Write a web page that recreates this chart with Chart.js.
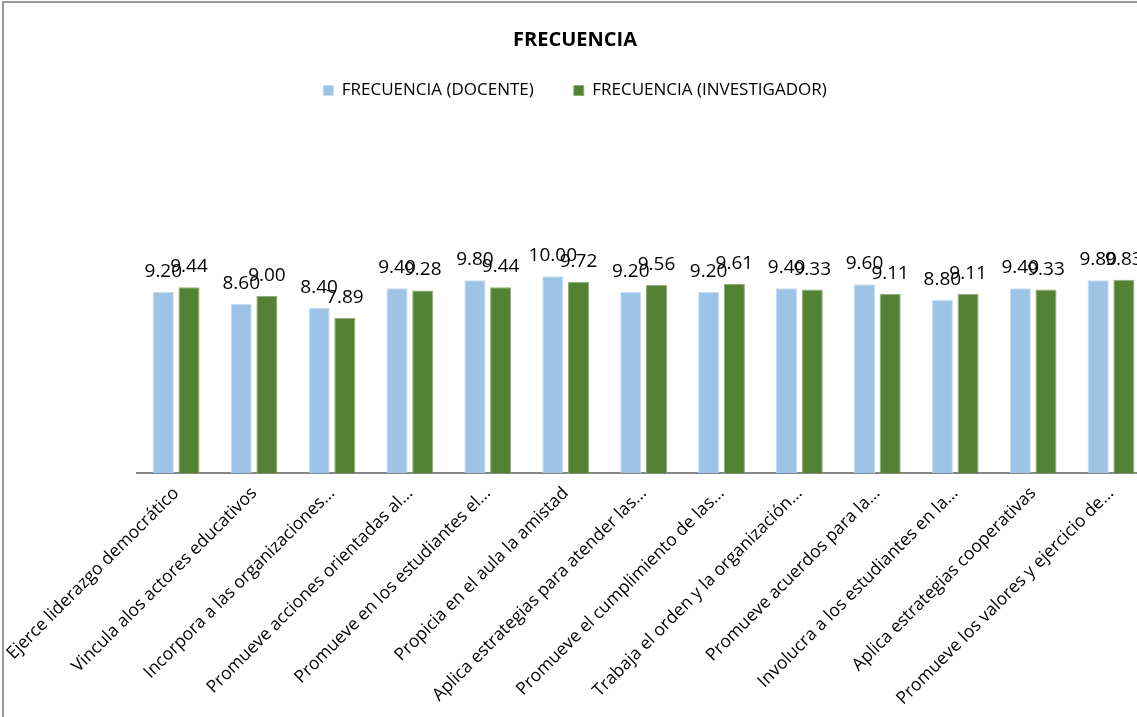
<!DOCTYPE html>
<html>
<head>
<meta charset="utf-8">
<script src="https://cdn.jsdelivr.net/npm/chart.js@4/dist/chart.umd.min.js"></script>
<style>
  html, body { margin: 0; padding: 0; background: #fff; overflow: hidden; }
  #wrap { position: relative; width: 1150px; height: 717px; }
  #frame { position: absolute; left: 2px; top: 1px; right: 0; bottom: 0;
           border-top: 2px solid #9a9a9a; border-left: 2px solid #9a9a9a; pointer-events: none; }
</style>
</head>
<body>
<div id="wrap">
  <canvas id="chart" width="1150" height="717"></canvas>
  <div id="frame"></div>
</div>
<script>
var categorias = [
  'Ejerce liderazgo democrático',
  'Vincula alos actores educativos',
  'Incorpora a las organizaciones...',
  'Promueve acciones orientadas al...',
  'Promueve en los estudiantes el...',
  'Propicia en el aula la amistad',
  'Aplica estrategias para atender las...',
  'Promueve el cumplimiento de las...',
  'Trabaja el orden y la organización...',
  'Promueve acuerdos para la...',
  'Involucra a los estudiantes en la...',
  'Aplica estrategias cooperativas',
  'Promueve los valores y ejercicio de...'
];
var docente = [9.20, 8.60, 8.40, 9.40, 9.80, 10.00, 9.20, 9.20, 9.40, 9.60, 8.80, 9.40, 9.80];
var investigador = [9.44, 9.00, 7.89, 9.28, 9.44, 9.72, 9.56, 9.61, 9.33, 9.11, 9.11, 9.33, 9.83];

var fuente = "'Open Sans', 'Liberation Sans', sans-serif";

// etiquetas de valor encima de cada barra
var etiquetas = {
  id: 'etiquetas',
  afterDatasetsDraw: function(chart){
    var ctx = chart.ctx;
    ctx.save();
    ctx.font = '19px ' + fuente;
    ctx.fillStyle = '#000';
    ctx.textAlign = 'center';
    ctx.textBaseline = 'alphabetic';
    chart.data.datasets.forEach(function(ds, i){
      chart.getDatasetMeta(i).data.forEach(function(bar, j){
        ctx.fillText(ds.data[j].toFixed(2), bar.x, bar.y - 15);
      });
    });
    ctx.restore();
  }
};

// espacio extra bajo la leyenda
var espacioLeyenda = {
  id: 'espacioLeyenda',
  beforeInit: function(chart){
    var fit = chart.legend.fit;
    chart.legend.fit = function(){
      fit.bind(chart.legend)();
      this.height += 128;
    };
  }
};

new Chart(document.getElementById('chart'), {
  type: 'bar',
  data: {
    labels: categorias,
    datasets: [{
      label: 'FRECUENCIA (DOCENTE)',
      data: docente,
      backgroundColor: '#9dc3e6',
      borderColor: '#c9ddf0',
      borderWidth: 1,
      categoryPercentage: 0.66,
      barPercentage: 0.82
    }, {
      label: 'FRECUENCIA (INVESTIGADOR)',
      data: investigador,
      backgroundColor: '#548235',
      borderColor: '#8fae79',
      borderWidth: 1,
      categoryPercentage: 0.66,
      barPercentage: 0.82
    }]
  },
  options: {
    responsive: false,
    animation: false,
    plugins: {
      title: {
        display: true,
        text: 'FRECUENCIA',
        color: '#000',
        font: { family: fuente, size: 20, weight: 'bold' },
        padding: { top: 28, bottom: -10 }
      },
      legend: {
        display: true,
        labels: {
          color: '#000',
          font: { family: fuente, size: 17 },
          boxWidth: 10,
          boxHeight: 10,
          padding: 40
        }
      },
      tooltip: { enabled: false }
    },
    scales: {
      x: {
        grid: { display: false, drawTicks: false },
        border: { display: true, color: '#868686', width: 2 },
        ticks: {
          color: '#000',
          font: { family: fuente, size: 17.5 },
          minRotation: 45,
          maxRotation: 45,
          autoSkip: false,
          padding: 10
        },
        afterFit: function(scale){ scale.height = 244; }
      },
      y: {
        display: false,
        min: 0,
        max: 12
      }
    }
  },
  plugins: [etiquetas, espacioLeyenda]
});
</script>
</body>
</html>
